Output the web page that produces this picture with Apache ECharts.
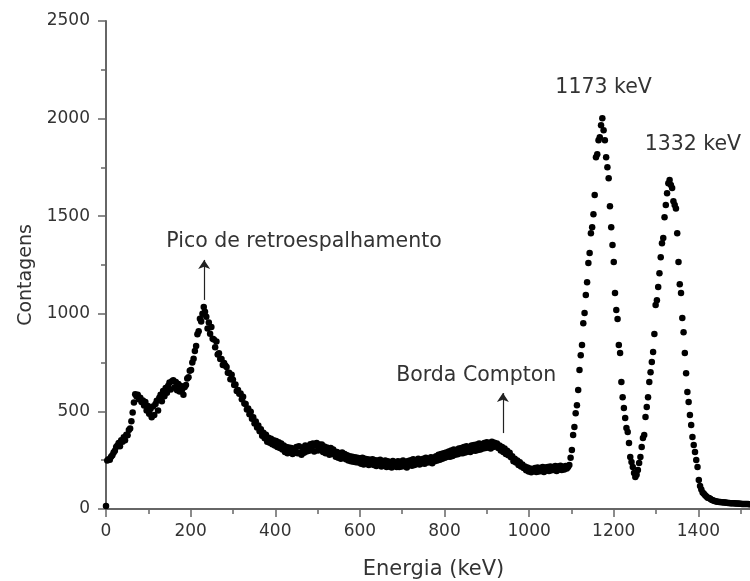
<!DOCTYPE html>
<html>
<head>
<meta charset="utf-8">
<script src="https://cdn.jsdelivr.net/npm/echarts@6/dist/echarts.min.js"></script>
<style>
html,body{margin:0;padding:0;background:#fff;}
#chart{width:750px;height:581px;}
</style>
</head>
<body>
<div id="chart"></div>
<script>
// Energy width of one MCA channel (keV); channel i is at energy i*channelWidth
const channelWidth = 3;

// Counts per channel (channels 0..511)
const counts = [
  15,248,255,252,268,275,290,298,318,325,
  338,322,352,345,368,352,380,378,405,412,
  450,495,545,588,578,585,562,570,548,556,
  530,548,505,528,488,512,470,525,482,538,
  555,505,570,585,552,605,578,620,595,632,
  648,612,655,660,622,650,608,640,602,630,
  612,585,625,635,668,675,708,712,750,770,
  810,835,895,910,975,960,1000,1035,1010,985,
  925,955,898,932,872,868,828,858,792,798,
  768,768,738,748,735,728,698,698,665,688,
  662,635,638,605,610,590,592,562,575,540,
  538,510,515,485,498,462,470,438,448,418,
  428,398,408,375,390,362,380,345,365,340,
  360,332,352,325,348,318,342,312,335,305,
  325,292,318,285,315,290,312,282,308,288,
  318,285,322,290,278,315,288,325,295,320,
  298,332,305,335,295,325,338,300,330,305,
  330,292,320,285,315,290,278,312,282,305,
  295,268,292,262,285,258,290,265,282,255,
  275,248,270,245,268,242,265,240,262,238,
  260,232,262,228,258,235,255,225,252,230,
  255,225,250,220,248,228,252,218,245,222,
  248,215,245,218,240,212,246,220,238,215,
  245,215,242,218,248,220,240,212,246,225,
  250,222,255,225,248,230,258,228,252,235,
  258,232,262,238,255,240,265,235,262,245,
  270,248,278,252,282,258,285,262,290,268,
  295,268,300,272,305,278,302,280,310,285,
  312,285,318,290,322,295,315,292,325,300,
  328,298,330,302,335,305,332,310,338,312,
  342,315,338,310,345,318,340,322,335,312,
  325,300,318,292,310,282,298,275,288,265,
  270,245,258,238,248,225,240,218,228,210,
  218,198,212,192,208,188,205,195,210,190,
  212,192,210,195,215,190,212,198,215,195,
  218,198,215,200,220,195,218,202,222,200,
  215,202,220,208,215,
  225,262,302,379,420,491,532,609,712,788,
  840,952,1004,1096,1162,1260,1311,1413,1444,1510,
  1608,1802,1818,1889,1905,1966,2002,
  1940,1889,1802,1751,1695,1551,1444,1352,1265,1106,
  1019,973,840,799,650,573,517,466,415,394,
  338,266,241,215,184,164,
  175,200,236,266,317,364,379,471,522,573,
  650,701,753,804,896,1045,1070,1137,1208,1290,
  1362,1388,1495,1557,1618,1669,1685,
  1660,1644,1577,1557,1540,1413,1265,1152,1106,978,
  906,799,696,599,548,481,430,369,328,292,
  251,215,148,118,100,85,78,70,64,58,
  56,52,48,45,42,40,38,37,36,36,
  35,34,33,33,32,31,31,30,30,29,
  29,28,28,28,27,27,26,26,26,25,
  25,25,24,24,24,23,23
];

const xAxisTitle = 'Energia (keV)';
const yAxisTitle = 'Contagens';
const annotationTexts = ['Pico de retroespalhamento', 'Borda Compton', '1173 keV', '1332 keV'];

const FONT = 'DejaVu Sans';
const TXT = '#333';
const AX = '#666';

const points = counts.map((c, i) => [i * channelWidth, c]);

const chart = echarts.init(document.getElementById('chart'), null, {renderer: 'canvas'});

const annoLabel = (fs) => ({
  show: true, position: 'inside', fontFamily: FONT, fontSize: fs, color: TXT
});

const option = {
  backgroundColor: '#fff',
  animation: false,
  grid: {left: 106, width: 677, top: 21, bottom: 72, containLabel: false, outerBoundsMode: 'none'},
  xAxis: {
    type: 'value', min: 0, max: 1600, interval: 200,
    name: xAxisTitle, nameLocation: 'middle', nameGap: 50,
    nameTextStyle: {fontFamily: FONT, fontSize: 21, color: TXT, padding: [0, 22, 0, 0]},
    axisLine: {show: true, onZero: false, lineStyle: {color: AX, width: 2}},
    axisTick: {show: true, inside: false, length: 8, lineStyle: {color: AX, width: 1.5}},
    minorTick: {show: true, splitNumber: 2, length: 5, lineStyle: {color: AX, width: 1.5}},
    splitLine: {show: false},
    axisLabel: {fontFamily: FONT, fontSize: 17, color: TXT, margin: 14, formatter: v => String(v)}
  },
  yAxis: {
    type: 'value', min: 0, max: 2500, interval: 500,
    name: yAxisTitle, nameLocation: 'middle', nameGap: 62,
    nameTextStyle: {fontFamily: FONT, fontSize: 19, color: TXT, padding: [0, 20, 0, 0]},
    axisLine: {show: true, onZero: false, lineStyle: {color: AX, width: 2}},
    axisTick: {show: true, inside: false, length: 8, lineStyle: {color: AX, width: 1.5}},
    minorTick: {show: true, splitNumber: 2, length: 5, lineStyle: {color: AX, width: 1.5}},
    splitLine: {show: false},
    axisLabel: {fontFamily: FONT, fontSize: 17, color: TXT, margin: 16, formatter: v => String(v)}
  },
  series: [
    {
      type: 'scatter',
      data: points,
      symbol: 'circle',
      symbolSize: 6.5,
      itemStyle: {color: '#000', opacity: 1},
      silent: true,
      clip: true
    },
    {
      type: 'scatter',
      symbolSize: 0,
      silent: true,
      itemStyle: {opacity: 1},
      data: [
        {value: [468, 1372], label: annoLabel(20.5), name: annotationTexts[0]},
        {value: [875, 681], label: annoLabel(20.5), name: annotationTexts[1]},
        {value: [1176, 2157], label: annoLabel(20.5), name: annotationTexts[2]},
        {value: [1387, 1865], label: annoLabel(20.5), name: annotationTexts[3]}
      ],
      label: {show: true, formatter: p => p.name},
      markLine: {
        silent: true,
        symbol: ['none', 'arrow'],
        symbolSize: 9,
        label: {show: false},
        lineStyle: {color: '#222', width: 1.2, type: 'solid', opacity: 1},
        emphasis: {disabled: true},
        data: [
          [{coord: [232, 1071]}, {coord: [232, 1276]}],
          [{coord: [938, 389]}, {coord: [938, 594]}]
        ]
      }
    }
  ]
};

chart.setOption(option);
</script>
</body>
</html>
